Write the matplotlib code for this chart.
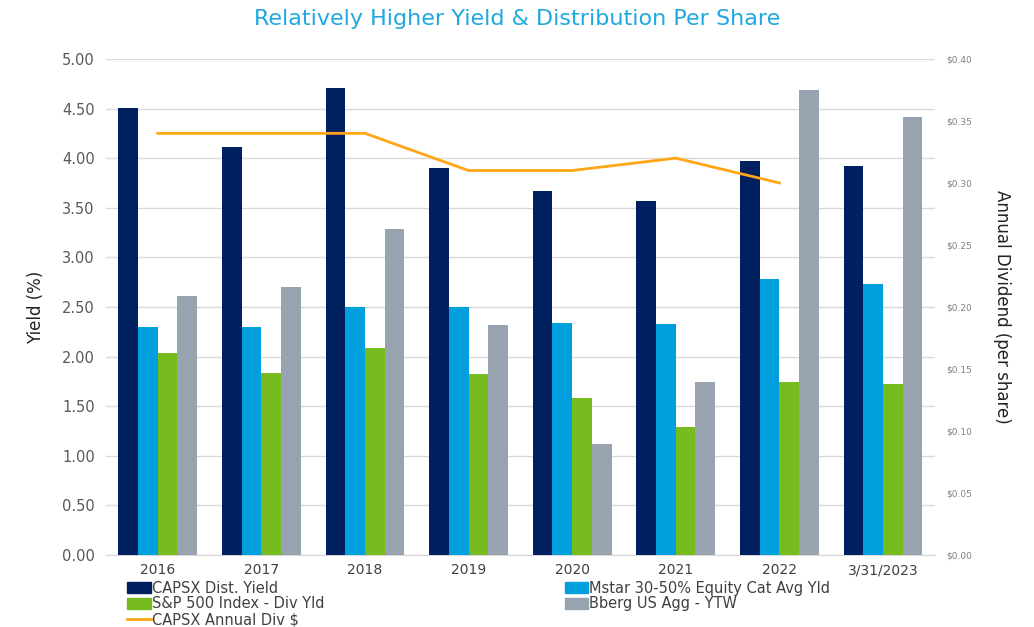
import numpy as np
import matplotlib.pyplot as plt
from matplotlib.patches import Patch
from matplotlib.lines import Line2D

categories = ['2016', '2017', '2018', '2019', '2020', '2021', '2022', '3/31/2023']
capsx_yield = [4.51, 4.11, 4.71, 3.90, 3.67, 3.57, 3.97, 3.92]
mstar_yield = [2.30, 2.30, 2.50, 2.50, 2.34, 2.33, 2.78, 2.73]
sp500_yield = [2.04, 1.83, 2.09, 1.82, 1.58, 1.29, 1.74, 1.72]
bberg_ytw = [2.61, 2.70, 3.29, 2.32, 1.12, 1.74, 4.69, 4.41]
annual_div = [0.34, 0.34, 0.34, 0.31, 0.31, 0.32, 0.30]

series = [
    ('CAPSX Dist. Yield', capsx_yield, '#002060'),
    ('Mstar 30-50% Equity Cat Avg Yld', mstar_yield, '#00A0DF'),
    ('S&P 500 Index - Div Yld', sp500_yield, '#77BC1F'),
    ('Bberg US Agg - YTW', bberg_ytw, '#97A4AF'),
]
line_color = '#FFA516'

fig = plt.figure(figsize=(10.34, 6.27), dpi=100)
ax = fig.add_axes([0.1025, 0.115, 0.8015, 0.791])

x = np.arange(len(categories))
w = 0.19
for i, (name, vals, col) in enumerate(series):
    ax.bar(x + (i - 1.5) * w, vals, width=w, color=col, zorder=3)

ax.set_ylim(0, 5)
ax.set_yticks(np.arange(0, 5.01, 0.5))
ax.set_yticklabels(['%.2f' % v for v in np.arange(0, 5.01, 0.5)], color='#595959', fontsize=10.5)
ax.set_xlim(-0.5, len(categories) - 0.5)
ax.set_xticks(x)
ax.set_xticklabels(categories, color='#404040', fontsize=10)
ax.tick_params(axis='x', length=0, pad=6)
ax.tick_params(axis='y', length=0, pad=8)
ax.grid(axis='y', color='#D9D9D9', linewidth=1, zorder=0)
for s in ['top', 'right', 'left']:
    ax.spines[s].set_visible(False)
ax.spines['bottom'].set_color('#D9D9D9')
ax.set_ylabel('Yield (%)', fontsize=12, color='#222222', labelpad=12)

ax2 = ax.twinx()
ax2.plot(x[:len(annual_div)], annual_div, color=line_color, linewidth=2, zorder=4)
ax2.set_ylim(0, 0.40)
ax2.set_yticks(np.arange(0, 0.401, 0.05))
ax2.set_yticklabels(['$%.2f' % v for v in np.arange(0, 0.401, 0.05)], color='#808080', fontsize=6.5)
ax2.tick_params(axis='y', length=0, pad=8)
for s in ax2.spines.values():
    s.set_visible(False)
ax2.set_ylabel('Annual Dividend (per share)', fontsize=12, color='#222222',
               rotation=270, labelpad=28)

fig.text(0.5, 0.970, 'Relatively Higher Yield & Distribution Per Share', ha='center', va='center',
         color='#1FA8E0', fontsize=16)

h = [Patch(color=c) for _, _, c in series]
left_handles = [h[0], h[2], Line2D([], [], color=line_color, linewidth=2)]
left_labels = [series[0][0], series[2][0], 'CAPSX Annual Div $']
right_handles = [h[1], h[3]]
right_labels = [series[1][0], series[3][0]]
kw = dict(frameon=False, fontsize=10.5, handlelength=1.6, handleheight=0.8, handletextpad=0.1,
          labelspacing=0.05, labelcolor='#404040', borderpad=0, borderaxespad=0)
fig.legend(left_handles, left_labels, loc='upper left', bbox_to_anchor=(0.123, 0.074), **kw)
fig.legend(right_handles, right_labels, loc='upper left', bbox_to_anchor=(0.546, 0.074), **kw)

fig.savefig('out.png', dpi=100)
